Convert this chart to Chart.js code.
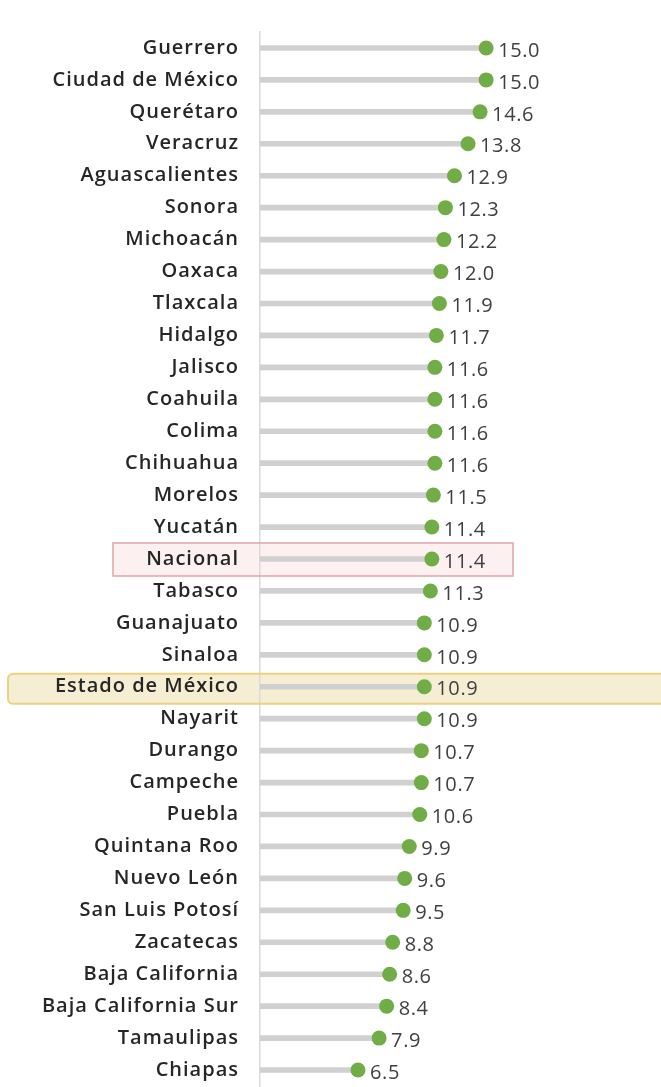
<!DOCTYPE html>
<html>
<head>
<meta charset="utf-8">
<script src="https://cdn.jsdelivr.net/npm/chart.js@4"></script>
<style>
    html, body { margin: 0; padding: 0; background: #ffffff; overflow: hidden; }
    #grafico { display: block; }
</style>
</head>
<body>
<canvas id="grafico" width="661" height="1087"></canvas>
<script>
const estados = ['Guerrero', 'Ciudad de México', 'Querétaro', 'Veracruz', 'Aguascalientes',
    'Sonora', 'Michoacán', 'Oaxaca', 'Tlaxcala', 'Hidalgo', 'Jalisco', 'Coahuila', 'Colima',
    'Chihuahua', 'Morelos', 'Yucatán', 'Nacional', 'Tabasco', 'Guanajuato', 'Sinaloa',
    'Estado de México', 'Nayarit', 'Durango', 'Campeche', 'Puebla', 'Quintana Roo',
    'Nuevo León', 'San Luis Potosí', 'Zacatecas', 'Baja California', 'Baja California Sur',
    'Tamaulipas', 'Chiapas'];

const valores = [15.0, 15.0, 14.6, 13.8, 12.9, 12.3, 12.2, 12.0, 11.9, 11.7, 11.6, 11.6, 11.6,
    11.6, 11.5, 11.4, 11.4, 11.3, 10.9, 10.9, 10.9, 10.9, 10.7, 10.7, 10.6, 9.9, 9.6, 9.5,
    8.8, 8.6, 8.4, 7.9, 6.5];

// filas resaltadas
const resaltados = ['Nacional', 'Estado de México'];

// recuadros de las filas resaltadas
function recuadros(chart, relleno) {
    const c = chart.ctx;
    const y = chart.scales.y;
    c.save();

    let cy = y.getPixelForValue(estados.indexOf(resaltados[0]));
    c.beginPath();
    c.rect(113, cy - 16, 400, 33);
    if (relleno) {
        c.fillStyle = '#fcf0f0';
        c.fill();
    } else {
        c.strokeStyle = '#e3a3a8';
        c.lineWidth = 1.5;
        c.stroke();
    }

    cy = y.getPixelForValue(estados.indexOf(resaltados[1]));
    c.beginPath();
    c.roundRect(8, cy - 13, chart.width + 10, 30, 5);
    if (relleno) {
        c.fillStyle = '#f6eed2';
        c.fill();
    } else {
        c.strokeStyle = '#ead27f';
        c.lineWidth = 2;
        c.stroke();
    }
    c.restore();
}

const etiquetas = {
    id: 'etiquetas',
    beforeDraw(chart) {
        // texto algo más espaciado
        chart.ctx.letterSpacing = '1px';
        recuadros(chart, true);
    },
    afterDatasetsDraw(chart) {
        const c = chart.ctx;
        recuadros(chart, false);

        // valores a la derecha de cada punto
        const meta = chart.getDatasetMeta(1);
        c.save();
        c.font = '20px "Open Sans"';
        c.letterSpacing = '0.6px';
        c.fillStyle = '#404040';
        c.textAlign = 'left';
        c.textBaseline = 'middle';
        meta.data.forEach((p, i) => {
            c.fillText(valores[i].toFixed(1), p.x + 12, p.y + 3);
        });
        c.restore();
    }
};

new Chart(document.getElementById('grafico'), {
    type: 'bar',
    data: {
        labels: estados,
        datasets: [
            {
                data: valores,
                backgroundColor: '#d0d0d0',
                barThickness: 5,
                order: 2
            },
            {
                type: 'line',
                data: valores,
                showLine: false,
                pointRadius: 7.5,
                pointHoverRadius: 7.5,
                pointBackgroundColor: '#70ad47',
                pointBorderWidth: 0,
                order: 1
            }
        ]
    },
    options: {
        indexAxis: 'y',
        responsive: false,
        animation: false,
        layout: { autoPadding: false, padding: { top: 32, bottom: 0, left: 0, right: 0 } },
        plugins: {
            legend: { display: false },
            tooltip: { enabled: false }
        },
        scales: {
            x: {
                type: 'linear',
                min: 0,
                max: 26.6,
                display: false
            },
            y: {
                // marcas invisibles para separar las etiquetas del eje
                grid: {
                    display: true,
                    drawOnChartArea: false,
                    drawTicks: true,
                    tickLength: 21,
                    color: 'rgba(0,0,0,0)'
                },
                border: { display: true, color: '#d9d9d9', width: 1.5 },
                ticks: {
                    padding: 0,
                    color: '#262626',
                    autoSkip: false,
                    font: { family: 'Open Sans', size: 20, weight: '600', lineHeight: 0.1 }
                },
                afterFit(scale) {
                    scale.width = 260;
                }
            }
        }
    },
    plugins: [etiquetas]
});
</script>
</body>
</html>
